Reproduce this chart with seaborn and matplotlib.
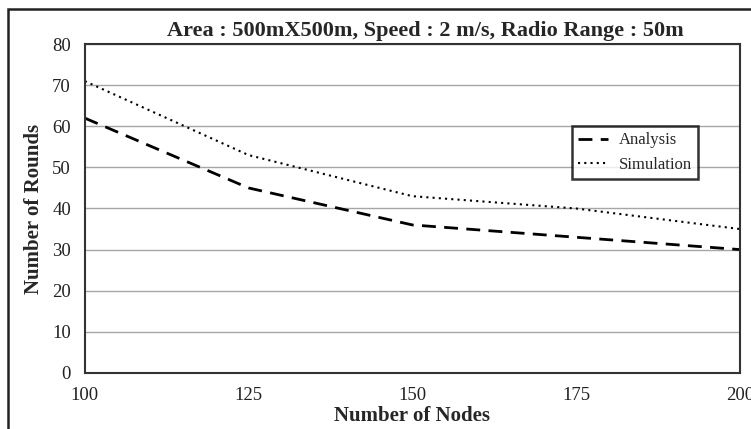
import seaborn as sns
import pandas as pd
import matplotlib.pyplot as plt
from matplotlib.patches import Rectangle

nodes = [100, 125, 150, 175, 200]
analysis = [62, 45, 36, 33, 30]
simulation = [71, 53, 43, 40, 35]

df = pd.DataFrame({'Nodes': nodes * 2,
                   'Rounds': analysis + simulation,
                   'Series': ['Analysis'] * 5 + ['Simulation'] * 5})

sns.set_style('white')
plt.rcParams['font.family'] = ['Liberation Serif', 'DejaVu Serif']

fig = plt.figure(figsize=(7.51, 4.29), dpi=100)
ax = fig.add_axes([0.113, 0.131, 0.872, 0.766])

for name, ls, lw in [('Analysis', (0, (5, 3)), 2.0), ('Simulation', (0, (1, 2)), 1.5)]:
    sub = df[df['Series'] == name]
    sns.lineplot(data=sub, x='Nodes', y='Rounds', ax=ax, color='black',
                 linestyle=ls, linewidth=lw, label=name)

ax.set_xlim(100, 200)
ax.set_ylim(0, 80)
ax.set_xticks(nodes)
ax.set_yticks(range(0, 81, 10))
ax.yaxis.grid(True, color='#a6a6a6', linewidth=1)
ax.set_axisbelow(True)
for s in ax.spines.values():
    s.set_color('#333333')
    s.set_linewidth(1.5)
ax.tick_params(axis='both', labelsize=13.5, length=4, color='#808080',
               labelcolor='#222222', direction='out')
ax.tick_params(axis='x', pad=6)
ax.tick_params(axis='y', pad=6)
ax.set_xlabel('Number of Nodes', fontsize=15, fontweight='bold', labelpad=2)
ax.set_ylabel('Number of Rounds', fontsize=15, fontweight='bold', labelpad=6)
ax.set_title('Area : 500mX500m, Speed : 2 m/s, Radio Range : 50m',
             fontsize=16, fontweight='bold', x=0.52, pad=6)

leg = ax.legend(loc='center', bbox_to_anchor=(0.84, 0.67), fontsize=12,
                frameon=True, fancybox=False, handlelength=1.8,
                borderpad=0.4, labelspacing=0.5, handletextpad=0.6)
leg.get_frame().set_edgecolor('black')
leg.get_frame().set_linewidth(1.8)

fig.patches.append(Rectangle((0.011, -0.05), 1.05, 1.03, transform=fig.transFigure,
                             fill=False, edgecolor='#222222', linewidth=1.8))

fig.savefig('out.png', dpi=100)
